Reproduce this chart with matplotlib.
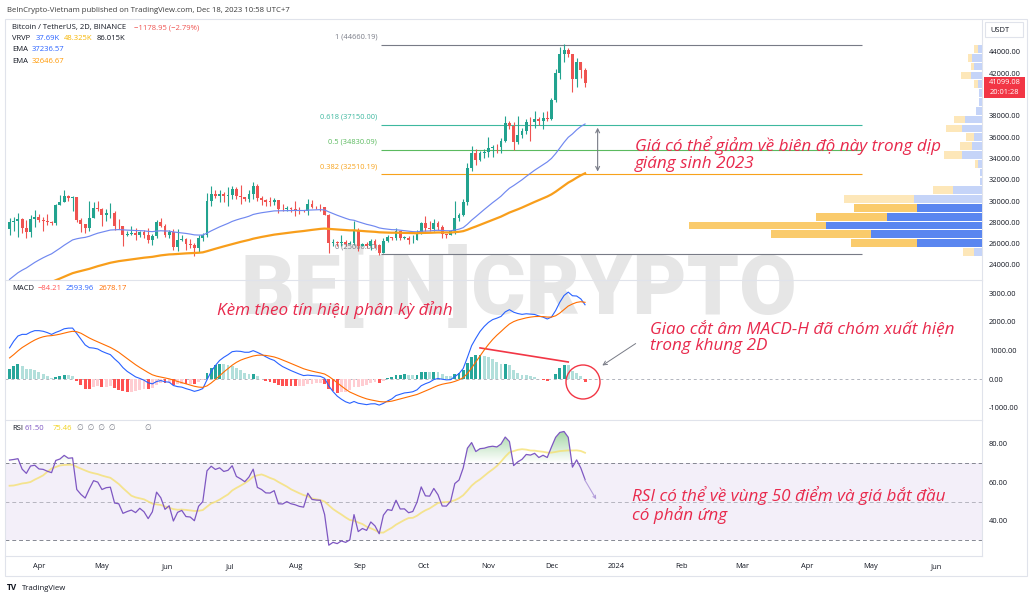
import numpy as np
import pandas as pd
import matplotlib
matplotlib.use("Agg")
import matplotlib.pyplot as plt
from matplotlib.patches import Rectangle, Ellipse, FancyArrowPatch, PathPatch
from matplotlib.path import Path
from matplotlib.colors import LinearSegmentedColormap
import matplotlib.dates as mdates

plt.rcParams['font.family'] = ['Open Sans', 'DejaVu Sans']

# BTCUSDT 2D candles, first visible candle opens 2023-03-18, last one 2023-12-17 (still open)
close = [28040, 28170, 28330, 27490, 27140, 28350, 28480, 28200, 28170, 28040,
         27950, 29650, 29890, 30490, 30320, 30380, 28240, 27820, 27510, 28420,
         29340, 29230, 28670, 28850, 28900, 27690, 27630, 26800, 26930, 27030,
         26830, 27100, 26850, 26330, 26720, 28080, 27700, 26820, 27070, 25730,
         26340, 26480, 25940, 25900, 25580, 26510, 26840, 30000, 30690, 30460,
         30690, 30450, 30590, 31160, 30500, 30350, 30170, 30620, 31450, 30290,
         30140, 29910, 29900, 30080, 29230, 29210, 29360, 29230, 29170, 29080,
         29040, 29760, 29450, 29420, 29410, 28700, 26050, 26190, 26040, 26160,
         26010, 26110, 27300, 25800, 25970, 25790, 26240, 25900, 25160, 26230,
         26600, 26530, 27210, 26570, 26580, 26300, 26370, 26910, 27980, 27430,
         27410, 27960, 27590, 26870, 26860, 27150, 28420, 28720, 29920, 33090,
         34500, 33890, 34540, 34650, 34940, 35080, 35040, 35620, 37310, 37060,
         35550, 36160, 36580, 37450, 37410, 37720, 37480, 37830, 37710, 39470,
         41980, 43770, 44170, 43790, 41490, 43020, 42260, 41099.08]
high = [28400, 28500, 28880, 28400, 28200, 28650, 29180, 28800, 28490, 28770,
        28170, 29770, 30550, 31000, 30600, 30480, 30400, 28370, 27820, 30000,
        29880, 29960, 29340, 29270, 29850, 29100, 28300, 27650, 27200, 27650,
        27480, 27180, 27270, 27500, 26900, 28200, 28450, 27830, 27300, 27400,
        27350, 26800, 26520, 26430, 26080, 26780, 27000, 30780, 31430, 31050,
        31000, 30830, 31280, 31400, 31330, 31500, 30400, 31050, 31800, 31630,
        30440, 30240, 30420, 30330, 30100, 29690, 29530, 29470, 30000, 29410,
        29170, 30200, 30120, 29530, 29680, 29450, 28800, 26450, 26260, 26800,
        26300, 26250, 28140, 27480, 26100, 26120, 26400, 26420, 26000, 26540,
        26850, 26630, 27480, 27150, 26740, 26720, 26830, 27300, 28060, 28580,
        28120, 28290, 28100, 27740, 26950, 27300, 30000, 28900, 30200, 33600,
        35200, 34850, 34700, 34850, 35980, 35300, 35380, 35900, 37970, 37520,
        37420, 37980, 36850, 37750, 37850, 38420, 37850, 38400, 38420, 39700,
        42400, 44490, 44700, 44360, 43800, 43400, 43090, 42450]
low = [26860, 27150, 26600, 27020, 26500, 26630, 27530, 28000, 27200, 27750,
       27790, 27800, 29600, 29870, 30050, 29100, 28000, 27130, 27020, 27200,
       28380, 29080, 27680, 28130, 28400, 27260, 27370, 25810, 26690, 26800,
       26380, 26630, 26500, 26100, 25870, 26550, 27550, 26600, 26510, 25390,
       25350, 26250, 25400, 25630, 24800, 25200, 26260, 26650, 29500, 30260,
       29900, 29950, 29500, 30150, 30200, 29700, 30050, 29950, 30200, 29960,
       29660, 29520, 29560, 29640, 28860, 29060, 29100, 29000, 28580, 28750,
       28930, 28700, 29350, 29300, 29100, 28660, 25170, 25800, 25810, 25800,
       25780, 25970, 25900, 25330, 25740, 25580, 25360, 25620, 24900, 25130,
       26120, 26380, 26380, 26330, 26460, 26000, 26080, 26320, 26900, 27150,
       27200, 27190, 27280, 26550, 26560, 26800, 26950, 28150, 28600, 29650,
       32800, 33400, 33800, 34000, 34100, 34100, 34500, 34500, 35550, 36750,
       34800, 35360, 35880, 36300, 35650, 36870, 37150, 36720, 37500, 37600,
       39300, 41420, 43080, 43500, 40200, 40700, 41600, 40700]
# 2D closes before the visible range (2022-11-02 .. 2023-03-16), only used to warm up the indicators
warmup_close = [20200, 21300, 20600, 15900, 17050, 16300, 16900, 16700, 16700, 15800,
                16600, 16500, 16450, 16450, 16970, 16900, 16970, 16830, 17130, 17090,
                17800, 17360, 16780, 16440, 16820, 16780, 16830, 16700, 16630, 16540,
                16680, 16850, 16950, 17120, 17440, 18850, 20880, 21180, 20680, 22780,
                22710, 22630, 23010, 23070, 22830, 23730, 23430, 22940, 23240, 21800,
                21860, 21790, 24330, 24570, 24280, 24450, 23940, 23160, 23500, 23650,
                22350, 22430, 22200, 20360, 20630, 24200, 24380, 27400]

# visible range volume profile, 24 rows, up (blue) and down (yellow) volume
vp_low, vp_high = 24800, 44700
vp_up = [8, 65, 110, 155, 94, 65, 68, 29, 2, 2, 4, 20, 10, 8, 20, 17, 6, 3, 3, 4, 11, 8, 10, 4]
vp_down = [11, 65, 99, 136, 71, 62, 69, 20, 0, 0, 3, 18, 12, 8, 16, 11, 0, 0, 0, 4, 10, 3, 4, 4]
vp_value_area = [1, 2, 3, 4, 5]

fib_levels = [1, 0.618, 0.5, 0.382, 0]
fib_prices = [44660.19, 37150.00, 34830.09, 32510.19, 25000.00]
fib_colors = ['#787B86', '#3DB89F', '#5BBA5F', '#F7A21B', '#787B86']

EMA_FAST, EMA_SLOW = 34, 89

W, H = 1033, 600
GREEN, RED = '#22A38F', '#EF5350'
TXT = '#131722'


def fx(px):
    return px / W


def fy(py):
    return 1 - py / H


def box(top, bottom, left=5, right=982):
    return [fx(left), fy(bottom), (right - left) / W, (bottom - top) / H]


n_warm = len(warmup_close)
all_close = pd.Series(warmup_close + close, dtype=float)
all_dates = pd.date_range(end='2023-12-17', periods=len(all_close), freq='2D')
dates = all_dates[n_warm:]
opens = all_close.shift(1).iloc[n_warm:].values
closes = np.array(close, dtype=float)

ema_f = all_close.ewm(span=EMA_FAST, adjust=False).mean().iloc[n_warm:].values
ema_s = all_close.ewm(span=EMA_SLOW, adjust=False).mean().iloc[n_warm:].values

macd_all = all_close.ewm(span=12, adjust=False).mean() - all_close.ewm(span=26, adjust=False).mean()
signal_all = macd_all.ewm(span=9, adjust=False).mean()
hist_all = macd_all - signal_all

delta = all_close.diff()
gain = delta.clip(lower=0).ewm(alpha=1 / 14, adjust=False).mean()
loss = (-delta.clip(upper=0)).ewm(alpha=1 / 14, adjust=False).mean()
rsi_all = 100 - 100 / (1 + gain / loss)
rsi_ma_all = rsi_all.rolling(14).mean()

macd = macd_all.iloc[n_warm:].values
signal = signal_all.iloc[n_warm:].values
hist = hist_all.iloc[n_warm:].values
hist_prev = hist_all.shift(1).iloc[n_warm:].values
rsi = rsi_all.iloc[n_warm:].values
rsi_ma = rsi_ma_all.iloc[n_warm:].values

fig = plt.figure(figsize=(W / 100, H / 100), dpi=100)
fig.patch.set_facecolor('white')

ax = fig.add_axes(box(20, 280))
ax_m = fig.add_axes(box(281, 420), sharex=ax)
ax_r = fig.add_axes(box(421, 556), sharex=ax)

for a in (ax, ax_m, ax_r):
    a.set_facecolor('none')
    for s in ('top', 'left'):
        a.spines[s].set_visible(False)
    for s in ('bottom', 'right'):
        a.spines[s].set_color('#E0E3EB')
        a.spines[s].set_linewidth(0.8)
    a.yaxis.tick_right()
    a.tick_params(axis='y', length=0, labelsize=5.4, labelcolor=TXT, pad=5)
    a.tick_params(axis='x', length=0)
    a.yaxis.set_major_formatter(matplotlib.ticker.FormatStrFormatter('%.2f'))

# candles
up = closes >= opens
cols = np.where(up, GREEN, RED)
ax.vlines(dates, low, high, color=cols, lw=0.8, zorder=3)
body = np.maximum(np.abs(closes - opens), 60)
ax.bar(dates, body, bottom=np.minimum(opens, closes), width=1.4, color=cols, zorder=4, linewidth=0)
ax.plot(dates, ema_f, color='#7088F0', lw=0.85, zorder=5)
ax.plot(dates, ema_s, color='#F89E1B', lw=1.6, zorder=5)

x_left, x_right = pd.Timestamp('2023-03-15 20:00'), pd.Timestamp('2024-06-23')
ax.set_xlim(x_left, x_right)
ax.set_ylim(22590, 47000)
ax.set_yticks(np.arange(24000, 44001, 2000))
ax.yaxis.get_major_ticks()[8].label2.set_visible(False)

# fib retracement
fib_start, fib_end = pd.Timestamp('2023-09-11'), pd.Timestamp('2024-04-27')
for lv, pr, c in zip(fib_levels, fib_prices, fib_colors):
    ax.hlines(pr, fib_start, fib_end, color=c, lw=0.8, zorder=2)
    ax.annotate(f'{lv} ({pr:.2f})', (fib_start, pr), xytext=(-3, 5.5),
                textcoords='offset points', ha='right', va='center', fontsize=5.4, color=c)
ax.annotate('', xy=(pd.Timestamp('2023-12-23'), fib_prices[1]),
            xytext=(pd.Timestamp('2023-12-23'), fib_prices[3]),
            arrowprops=dict(arrowstyle='<->', color='#787B86', lw=0.8, mutation_scale=7))

# volume profile
vp = ax.twiny()
vp.set_facecolor('none')
vp.axis('off')
row = (vp_high - vp_low) / len(vp_up)
centers = vp_low + row * (np.arange(len(vp_up)) + 0.5)
totals = np.array(vp_up) + np.array(vp_down)
vp.set_xlim(totals.max() / 0.3, 0)
strong = np.isin(np.arange(len(vp_up)), vp_value_area)
vp.barh(centers, vp_up, height=row * 0.88, left=0,
        color=np.where(strong, '#5A86F0', '#C5D4F8'), linewidth=0)
vp.barh(centers, vp_down, height=row * 0.88, left=vp_up,
        color=np.where(strong, '#FACB6C', '#FDE7B9'), linewidth=0)
vp.set_ylim(ax.get_ylim())

# MACD
hcol = np.where(hist >= 0, np.where(hist > hist_prev, '#26A69A', '#B2DFDB'),
                np.where(hist < hist_prev, '#FF5252', '#FFCDD2'))
ax_m.bar(dates, hist, width=1.4, color=hcol, linewidth=0, zorder=2)
ax_m.plot(dates, macd, color='#2962FF', lw=0.8, zorder=3)
ax_m.plot(dates, signal, color='#FF6D00', lw=0.8, zorder=3)
ax_m.axhline(0, color='#B2B5BE', lw=0.7, ls=(0, (3, 3)), zorder=1)
ax_m.set_ylim(-1420, 3420)
ax_m.set_yticks([-1000, 0, 1000, 2000, 3000])
ax_m.plot([pd.Timestamp('2023-10-28'), pd.Timestamp('2023-12-09')], [1090, 600], color='#F23645', lw=1.2)

# RSI
ax_r.axhspan(30, 70, color='#7E57C2', alpha=0.09, lw=0)
for lvl, al in ((70, 0.9), (50, 0.5), (30, 0.9)):
    ax_r.axhline(lvl, color='#787B86', lw=0.7, ls=(0, (4, 3)), alpha=al)
ob = ax_r.fill_between(dates, 70, rsi, where=rsi > 70, interpolate=True, color='none', lw=0)
green_fade = LinearSegmentedColormap.from_list('fade', [(0.30, 0.69, 0.31, 0.0), (0.30, 0.69, 0.31, 0.55)])
grad = ax_r.imshow(np.linspace(0, 1, 256).reshape(-1, 1), cmap=green_fade, aspect='auto', origin='lower',
                   extent=[mdates.date2num(x_left), mdates.date2num(x_right), 70, 88], zorder=1)
grad.set_clip_path(PathPatch(Path.make_compound_path(*ob.get_paths()), transform=ax_r.transData))
ax_r.plot(dates, rsi_ma, color='#F5DF6A', lw=1.3, alpha=0.75, zorder=2)
ax_r.plot(dates, rsi, color='#7E57C2', lw=0.9, zorder=3)
ax_r.annotate('', xy=(pd.Timestamp('2023-12-23'), 50), xytext=(pd.Timestamp('2023-12-16'), 62.9),
              arrowprops=dict(arrowstyle='->', color='#B39DDB', lw=0.8, mutation_scale=5))
ax_r.set_ylim(21.8, 91.9)
ax_r.set_yticks([40, 60, 80])

months = pd.date_range('2023-04-01', '2024-06-01', freq='MS')
ax_r.set_xticks(months)
ax_r.set_xticklabels([m.strftime('%Y') if m.month == 1 else m.strftime('%b') for m in months])
ax_r.tick_params(axis='x', labelsize=5.4, labelcolor=TXT, pad=5)
ax_r.set_xlim(x_left, x_right)
plt.setp(ax.get_xticklabels(), visible=False)
plt.setp(ax_m.get_xticklabels(), visible=False)

# frame and chrome
fig.patches.append(Rectangle((fx(5), fy(576)), (1027 - 5) / W, (576 - 19) / H, transform=fig.transFigure,
                             fill=False, ec='#E0E3EB', lw=0.8))
fig.text(fx(7), fy(10), 'BeInCrypto-Vietnam published on TradingView.com, Dec 18, 2023 10:58 UTC+7',
         fontsize=5.55, color='#3d3d3d', va='center')


def legend_row(y, pieces):
    for x, t, c in pieces:
        fig.text(fx(x), fy(y), t, fontsize=5.5, color=c, va='center')


legend_row(28, [(12, 'Bitcoin / TetherUS, 2D, BINANCE', TXT), (134, '\u22121178.95 (\u22122.79%)', RED)])
legend_row(39, [(12, 'VRVP', TXT), (36, '37.69K', '#2962FF'), (64, '48.325K', '#F7B500'), (97, '86.015K', TXT)])
legend_row(49.5, [(12, 'EMA', TXT), (32, '37236.57', '#2962FF')])
legend_row(61.5, [(12, 'EMA', TXT), (32, '32646.67', '#FF9800')])
legend_row(288, [(12, 'MACD', TXT), (38, '\u221284.21', '#FF5252'), (66, '2593.96', '#2962FF'), (99, '2678.17', '#FF6D00')])
legend_row(429, [(12, 'RSI', TXT), (25, '61.50', '#7E57C2'), (53, '75.46', '#F2D21B'),
                 (77, '\u2205  \u2205  \u2205  \u2205', '#787B86'), (144, '\u2205', '#787B86')])

fig.patches.append(Rectangle((fx(985), fy(37)), 38 / W, 15 / H, transform=fig.transFigure,
                             fill=True, fc='white', ec='#E0E3EB', lw=0.8))
fig.text(fx(990), fy(30), 'USDT', fontsize=5.4, color=TXT, va='center')
fig.patches.append(Rectangle((fx(984), fy(98)), 41 / W, 21 / H, transform=fig.transFigure,
                             fc='#F23645', ec='none', zorder=5))
fig.text(fx(1004.5), fy(83), f'{closes[-1]:.2f}', fontsize=5.4, color='white', ha='center', va='center', zorder=6)
fig.text(fx(1004.5), fy(92), '20:01:28', fontsize=5.4, color='white', ha='center', va='center', zorder=6)

fig.text(fx(7), fy(588), 'TV', fontsize=6, fontweight='bold', color=TXT, va='center')
fig.text(fx(22), fy(588), 'TradingView', fontsize=5.6, color=TXT, va='center')

fig.text(fx(519), fy(289), 'BE[IN]CRYPTO', fontsize=60, fontweight='heavy', family='Roboto',
         color='#E6E6E6', ha='center', va='center', zorder=-1)

# notes
RED_TXT = '#E8294C'
note = dict(fontsize=12.3, style='italic', color=RED_TXT, va='center', linespacing=1.08)
fig.text(fx(635), fy(154.5), 'Giá có thể giảm về biên độ này trong dịp\ngiáng sinh 2023', **note)
fig.text(fx(217), fy(310), 'Kèm theo tín hiệu phân kỳ đỉnh', **note)
fig.text(fx(650), fy(337.5), 'Giao cắt âm MACD-H đã chóm xuất hiện\ntrong khung 2D', **note)
fig.text(fx(632), fy(505), 'RSI có thể về vùng 50 điểm và giá bắt đầu\ncó phản ứng', **note)
fig.patches.append(Ellipse((fx(583), fy(382)), 34 / W, 34 / H, transform=fig.transFigure,
                           fill=False, ec='#F23645', lw=1.0))
fig.add_artist(FancyArrowPatch((fx(638), fy(342)), (fx(600), fy(367)), transform=fig.transFigure,
                               arrowstyle='->', mutation_scale=7, color='#787B86', lw=0.7))

fig.savefig('out.png', dpi=100)
